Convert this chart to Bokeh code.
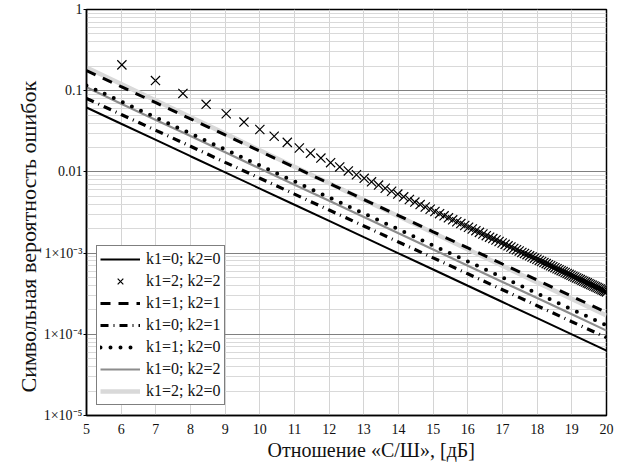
from bokeh.plotting import figure
from bokeh.models import FixedTicker, Legend, LegendItem, Title
from bokeh.embed import file_html
from bokeh.resources import INLINE
import numpy as np

# SNR grid for line curves, dB
snr_db = [5, 6, 7, 8, 9, 10, 11, 12, 13, 14, 15, 16, 17, 18, 19, 20]

# k1=0; k2=0 (black solid)
p_k00 = [0.0621, 0.0392, 0.0248, 0.0156, 9.88e-3, 6.24e-3, 3.94e-3, 2.49e-3,
         1.57e-3, 9.94e-4, 6.28e-4, 3.96e-4, 2.50e-4, 1.58e-4, 1.00e-4, 6.31e-5]
# k1=1; k2=1 (dashed)
p_k11 = [0.177, 0.112, 0.0711, 0.0450, 0.0285, 0.0180, 0.0114, 7.23e-3,
         4.57e-3, 2.90e-3, 1.83e-3, 1.16e-3, 7.34e-4, 4.65e-4, 2.94e-4, 1.86e-4]
# k1=0; k2=1 (dash-dot)
p_k01 = [0.0802, 0.0510, 0.0325, 0.0207, 0.0131, 8.37e-3, 5.32e-3, 3.39e-3,
         2.16e-3, 1.37e-3, 8.73e-4, 5.56e-4, 3.54e-4, 2.25e-4, 1.43e-4, 9.12e-5]
# k1=1; k2=0 (dotted)
p_k10 = [0.116, 0.0736, 0.0468, 0.0297, 0.0189, 0.0120, 7.63e-3, 4.85e-3,
         3.08e-3, 1.96e-3, 1.24e-3, 7.91e-4, 5.02e-4, 3.19e-4, 2.03e-4, 1.29e-4]
# k1=0; k2=2 (grey solid)
p_k02 = [0.110, 0.0693, 0.0437, 0.0276, 0.0175, 0.0110, 6.96e-3, 4.40e-3,
         2.78e-3, 1.75e-3, 1.11e-3, 7.00e-4, 4.42e-4, 2.79e-4, 1.77e-4, 1.11e-4]
# k1=2; k2=0 (light grey solid)
p_k20 = [0.193, 0.121, 0.0757, 0.0473, 0.0296, 0.0185, 0.0116, 7.26e-3,
         4.54e-3, 2.84e-3, 1.78e-3, 1.11e-3, 6.97e-4, 4.36e-4, 2.73e-4, 1.71e-4]

# k1=2; k2=2 (x markers), sampled at linear SNR 4..100
snr_lin_x = list(range(4, 101))
p_k22 = [0.208, 0.1332, 0.0925, 0.0680, 0.0520, 0.0411, 0.0333, 0.0275, 0.0231,
         0.0197, 0.0170, 0.0148, 0.0130, 0.01152, 0.01028, 0.00922, 0.00833,
         0.00755, 0.00688, 0.00629, 0.00578, 0.00533, 0.00493, 0.00457, 0.00425,
         0.00396, 0.00370, 0.00347, 0.00325, 0.00306, 0.00288, 0.00272, 0.00257,
         0.00243, 0.00231, 0.00219, 0.00208, 0.00198, 0.00189, 0.00180, 0.00172,
         0.00164, 0.00157, 0.00151, 0.00145, 0.00139, 0.00133, 0.00128, 0.00123,
         0.00119, 0.00114, 0.00110, 0.00106, 0.00102, 0.000990, 0.000957,
         0.000925, 0.000895, 0.000866, 0.000839, 0.000813, 0.000788, 0.000764,
         0.000742, 0.000720, 0.000699, 0.000680, 0.000661, 0.000642, 0.000625,
         0.000608, 0.000592, 0.000577, 0.000562, 0.000547, 0.000534, 0.000520,
         0.000508, 0.000495, 0.000483, 0.000472, 0.000461, 0.000450, 0.000440,
         0.000430, 0.000420, 0.000411, 0.000402, 0.000393, 0.000385, 0.000377,
         0.000369, 0.000361, 0.000354, 0.000347, 0.000340, 0.000333]
snr_db_x = list(10 * np.log10(np.array(snr_lin_x, dtype=float)))

x_ticks = [5, 6, 7, 8, 9, 10, 11, 12, 13, 14, 15, 16, 17, 18, 19, 20]
y_ticks = [1e-5, 1e-4, 1e-3, 1e-2, 1e-1, 1.0]
y_tick_labels = ["1×10⁻⁵", "1×10⁻⁴", "1×10⁻³", "0.01", "0.1", "1"]

legend_labels = ["k1=0; k2=0", "k1=2; k2=2", "k1=1; k2=1", "k1=0; k2=1",
                 "k1=1; k2=0", "k1=0; k2=2", "k1=2; k2=0"]

x_title = "Отношение «С/Ш», [дБ]"
y_title = "Символьная вероятность ошибок"

FONT = "Liberation Serif"

p = figure(width=623, height=465, x_range=(5, 20), y_range=(1e-5, 1),
           y_axis_type="log", output_backend="svg", toolbar_location=None,
           min_border_left=86, min_border_right=17, min_border_top=9,
           min_border_bottom=50)

p.background_fill_color = "white"
p.border_fill_color = "white"
p.outline_line_color = "black"
p.outline_line_width = 1.5

# axes
p.xaxis.ticker = FixedTicker(ticks=x_ticks)
minor = [m * 10.0 ** k for k in range(-5, 0) for m in range(2, 10)]
p.yaxis.ticker = FixedTicker(ticks=y_ticks, minor_ticks=minor)
p.yaxis.major_label_overrides = {t: l for t, l in zip(y_ticks, y_tick_labels)}

for ax in (p.xaxis, p.yaxis):
    ax.axis_line_color = "black"
    ax.axis_line_width = 1.5
    ax.major_label_text_font = FONT
    ax.major_label_text_font_size = "14px"
    ax.major_label_text_color = "#111111"
    ax.minor_tick_line_color = None
    ax.major_tick_in = 0

p.xaxis.major_tick_out = 0
p.yaxis.major_tick_out = 3
p.xaxis.major_label_standoff = 8
p.yaxis.major_label_standoff = 0

# axis titles, placed slightly off-centre as in the original
xt = Title(text=x_title, align="left", offset=181, text_font=FONT,
           text_font_size="20px", text_font_style="normal",
           text_color="#111111", standoff=0)
p.add_layout(xt, "below")
yt = Title(text=y_title, align="left", offset=23, text_font=FONT,
           text_font_size="22px", text_font_style="normal",
           text_color="#111111", standoff=0)
p.add_layout(yt, "left")

# grid
p.xgrid.grid_line_color = "#d4d4d4"
p.xgrid.grid_line_width = 1
p.ygrid.grid_line_color = "#808080"
p.ygrid.grid_line_width = 1
p.ygrid.minor_grid_line_color = "#d9d9d9"
p.ygrid.minor_grid_line_width = 1

# curves
r_20 = p.line(snr_db, p_k20, line_color="#d9d9d9", line_width=4.5)
r_02 = p.line(snr_db, p_k02, line_color="#8c8c8c", line_width=2.2)
r_10 = p.line(snr_db, p_k10, line_color="black", line_width=4,
              line_dash="0 10", line_cap="round")
r_01 = p.line(snr_db, p_k01, line_color="black", line_width=3.2,
              line_dash="8 5 1 5")
r_11 = p.line(snr_db, p_k11, line_color="black", line_width=3,
              line_dash="10 8")
r_00 = p.line(snr_db, p_k00, line_color="black", line_width=2)
r_22 = p.scatter(snr_db_x, p_k22, marker="x", size=13, line_color="black",
                 line_width=1.2)

renderers = [r_00, r_22, r_11, r_01, r_10, r_02, r_20]
legend = Legend(items=[LegendItem(label=l, renderers=[r])
                       for l, r in zip(legend_labels, renderers)],
                location="bottom_left")
legend.label_text_font = FONT
legend.label_text_font_size = "16px"
legend.label_text_color = "#111111"
legend.border_line_color = "black"
legend.border_line_width = 1.5
legend.background_fill_color = "white"
legend.background_fill_alpha = 1.0
legend.margin = 10
legend.padding = 3
legend.spacing = 2
legend.glyph_width = 40
legend.glyph_height = 20
legend.label_height = 20
legend.label_standoff = 6
p.add_layout(legend)

open("out.html", "w").write(file_html(p, INLINE))
